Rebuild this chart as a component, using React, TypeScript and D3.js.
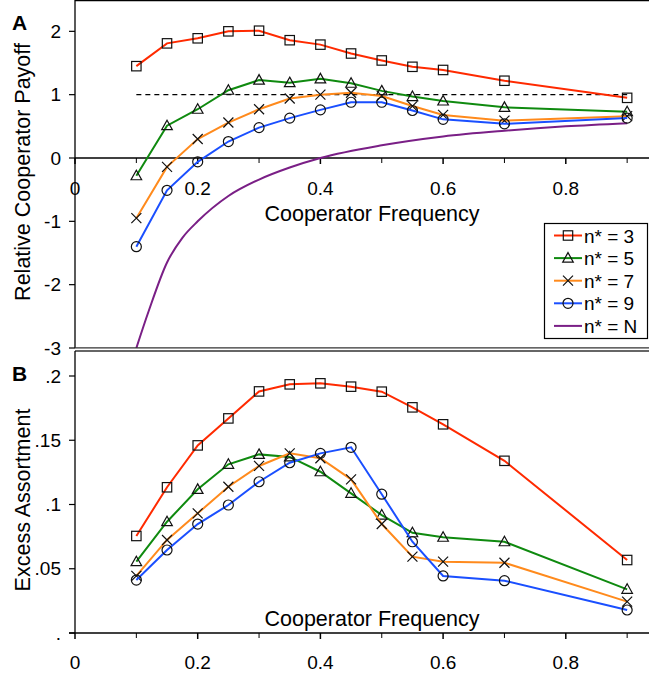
import React, { useEffect } from "react";
import * as d3 from "d3";

// cooperator frequencies sampled in the simulations
const freqs = [0.1, 0.15, 0.2, 0.25, 0.3, 0.35, 0.4, 0.45, 0.5, 0.55, 0.6, 0.7, 0.9];

// panel A: relative cooperator payoff
const payoff3 = [1.45, 1.81, 1.89, 2.0, 2.01, 1.86, 1.79, 1.65, 1.54, 1.44, 1.39, 1.22, 0.95];
const payoff5 = [-0.28, 0.51, 0.77, 1.07, 1.23, 1.19, 1.25, 1.18, 1.06, 0.97, 0.9, 0.8, 0.73];
const payoff7 = [-0.95, -0.14, 0.3, 0.56, 0.77, 0.94, 1.0, 1.03, 0.98, 0.82, 0.68, 0.59, 0.66];
const payoff9 = [-1.4, -0.51, -0.06, 0.26, 0.48, 0.63, 0.76, 0.88, 0.88, 0.75, 0.61, 0.54, 0.63];
const freqsN = [0.1, 0.12, 0.15, 0.175, 0.2, 0.25, 0.3, 0.35, 0.4, 0.5, 0.6, 0.7, 0.8, 0.9];
const payoffN = [-3.0, -2.42, -1.65, -1.26, -1.0, -0.6, -0.34, -0.15, 0.0, 0.2, 0.34, 0.43, 0.5, 0.55];

// panel B: excess assortment
const assort3 = [0.0755, 0.1134, 0.146, 0.167, 0.188, 0.1935, 0.1943, 0.1917, 0.1878, 0.1756, 0.1624, 0.134, 0.0568];
const assort5 = [0.0555, 0.0866, 0.1118, 0.1313, 0.139, 0.137, 0.1255, 0.1087, 0.0918, 0.078, 0.0745, 0.071, 0.034];
const assort7 = [0.0444, 0.0724, 0.0931, 0.1138, 0.13, 0.1398, 0.136, 0.1196, 0.0848, 0.0594, 0.0555, 0.0547, 0.0244];
const assort9 = [0.0412, 0.0646, 0.0848, 0.0996, 0.1177, 0.1325, 0.1398, 0.1445, 0.108, 0.071, 0.0444, 0.0407, 0.0179];

const legendLabels = ["n* = 3", "n* = 5", "n* = 7", "n* = 9", "n* = N"];
const colors = ["#ff2a00", "#0f8a0f", "#ff8a1c", "#1a4fff", "#7a1f86"];
const markers = ["square", "triangle", "cross", "circle", "none"];

const xTicksMajor = [0, 0.2, 0.4, 0.6, 0.8];
const xTickLabels = ["0", "0.2", "0.4", "0.6", "0.8"];
const xTicksMinor = [0.1, 0.3, 0.5, 0.7, 0.9];
const yTicksA = [-3, -2, -1, 0, 1, 2];
const yTicksB = [0, 0.05, 0.1, 0.15, 0.2];
const yTickLabelsB = [".", ".05", ".1", ".15", ".2"];

const FONT = "'Liberation Sans', Arial, sans-serif";

const x = d3.scaleLinear().domain([0, 1]).range([75, 688.5]);
const yA = d3.scaleLinear().domain([-3, 0]).range([348, 158]);
const yB = d3.scaleLinear().domain([0, 0.2]).range([633, 376]);

function Marker({ kind, cx, cy }: { kind: string; cx: number; cy: number }) {
  const s = { fill: "none", stroke: "#111", strokeWidth: 1.2 };
  if (kind === "square") return <rect x={cx - 4.7} y={cy - 4.7} width={9.4} height={9.4} {...s} />;
  if (kind === "circle") return <circle cx={cx} cy={cy} r={5} {...s} />;
  if (kind === "triangle")
    return <path d={`M${cx},${cy - 5.5}L${cx + 5.3},${cy + 4}L${cx - 5.3},${cy + 4}Z`} {...s} />;
  if (kind === "cross")
    return <path d={`M${cx - 5},${cy - 5}L${cx + 5},${cy + 5}M${cx - 5},${cy + 5}L${cx + 5},${cy - 5}`} {...s} />;
  return null;
}

function Series({ xs, ys, y, color, marker }: { xs: number[]; ys: number[]; y: d3.ScaleLinear<number, number>; color: string; marker: string }) {
  const pts = xs.map((v, i) => [v, ys[i]] as [number, number]);
  const line = d3.line<[number, number]>().x((d) => x(d[0])).y((d) => y(d[1]));
  if (marker === "none") line.curve(d3.curveMonotoneX);
  return (
    <g>
      <path d={line(pts) || ""} fill="none" stroke={color} strokeWidth={2} />
      {pts.map((d, i) => (
        <Marker key={i} kind={marker} cx={x(d[0])} cy={y(d[1])} />
      ))}
    </g>
  );
}

function XAxis({ y0, left, labelY }: { y0: number; left: number; labelY: number }) {
  return (
    <g>
      <line x1={left} x2={649} y1={y0} y2={y0} stroke="#000" strokeWidth={1.3} />
      {xTicksMajor.map((t) => (
        <line key={t} x1={x(t)} x2={x(t)} y1={y0} y2={y0 + 6} stroke="#000" strokeWidth={1.5} />
      ))}
      {xTicksMinor.map((t) => (
        <line key={t} x1={x(t)} x2={x(t)} y1={y0} y2={y0 + 5} stroke="#000" strokeWidth={1} />
      ))}
      {xTicksMajor.map((t, i) => (
        <text key={t} x={x(t)} y={labelY} textAnchor="middle" fontSize={19} fontFamily={FONT}>
          {xTickLabels[i]}
        </text>
      ))}
    </g>
  );
}

export default function App() {
  useEffect(() => {
    document.body.style.margin = "0";
  }, []);

  const seriesA = [payoff3, payoff5, payoff7, payoff9];
  const seriesB = [assort3, assort5, assort7, assort9];

  return (
    <svg width={649} height={674} style={{ display: "block", background: "#fff" }}>
      {/* panel A frame */}
      <line x1={75} x2={649} y1={0.7} y2={0.7} stroke="#000" strokeWidth={1.3} />
      <line x1={75} x2={75} y1={0} y2={348} stroke="#000" strokeWidth={1.3} />
      {yTicksA.map((t) => (
        <g key={t}>
          <line x1={69} x2={75} y1={yA(t)} y2={yA(t)} stroke="#000" strokeWidth={1.2} />
          <text x={61} y={yA(t) + 6.5} textAnchor="end" fontSize={19} fontFamily={FONT}>
            {t}
          </text>
        </g>
      ))}
      <XAxis y0={yA(0)} left={75} labelY={195} />
      <text x={372} y={221} textAnchor="middle" fontSize={21.5} fontFamily={FONT}>
        Cooperator Frequency
      </text>
      <text transform={`translate(30,${172}) rotate(-90)`} textAnchor="middle" fontSize={21.5} fontFamily={FONT}>
        Relative Cooperator Payoff
      </text>
      <text x={12} y={30} fontSize={21} fontWeight="bold" fontFamily={FONT}>A</text>

      <line x1={x(0.1)} x2={x(0.9)} y1={yA(1)} y2={yA(1)} stroke="#000" strokeWidth={1.2} strokeDasharray="5,4" />
      <g clipPath="url(#clipA)">
        <Series xs={freqsN} ys={payoffN} y={yA} color={colors[4]} marker="none" />
      </g>
      {seriesA.map((s, i) => (
        <Series key={i} xs={freqs} ys={s} y={yA} color={colors[i]} marker={markers[i]} />
      ))}
      <defs>
        <clipPath id="clipA">
          <rect x={75} y={0} width={574} height={348} />
        </clipPath>
      </defs>

      {/* legend */}
      <rect x={544.5} y={223.5} width={103} height={115} fill="#fff" stroke="#000" strokeWidth={1.2} />
      {legendLabels.map((lab, i) => {
        const ly = 235.5 + i * 22.6;
        return (
          <g key={lab}>
            <line x1={554} x2={582} y1={ly} y2={ly} stroke={colors[i]} strokeWidth={2} />
            <Marker kind={markers[i]} cx={568} cy={ly} />
            <text x={584} y={ly + 7} fontSize={19} fontFamily={FONT}>{lab}</text>
          </g>
        );
      })}

      {/* separator */}
      <line x1={75} x2={649} y1={347.8} y2={347.8} stroke="#333" strokeWidth={1.3} />
      <line x1={75} x2={649} y1={351} y2={351} stroke="#333" strokeWidth={1.3} />

      {/* panel B */}
      <line x1={75} x2={75} y1={351} y2={633} stroke="#000" strokeWidth={1.3} />
      {yTicksB.map((t, i) => (
        <g key={t}>
          <line x1={69} x2={75} y1={yB(t)} y2={yB(t)} stroke="#000" strokeWidth={1.2} />
          <text x={61} y={yB(t) + 6.5} textAnchor="end" fontSize={19} fontFamily={FONT}>
            {yTickLabelsB[i]}
          </text>
        </g>
      ))}
      <XAxis y0={633} left={69} labelY={669} />
      <text x={372} y={626} textAnchor="middle" fontSize={21.5} fontFamily={FONT}>
        Cooperator Frequency
      </text>
      <text transform={`translate(30,${500}) rotate(-90)`} textAnchor="middle" fontSize={21.5} fontFamily={FONT}>
        Excess Assortment
      </text>
      <text x={12} y={381} fontSize={21} fontWeight="bold" fontFamily={FONT}>B</text>
      {seriesB.map((s, i) => (
        <Series key={i} xs={freqs} ys={s} y={yB} color={colors[i]} marker={markers[i]} />
      ))}
    </svg>
  );
}
